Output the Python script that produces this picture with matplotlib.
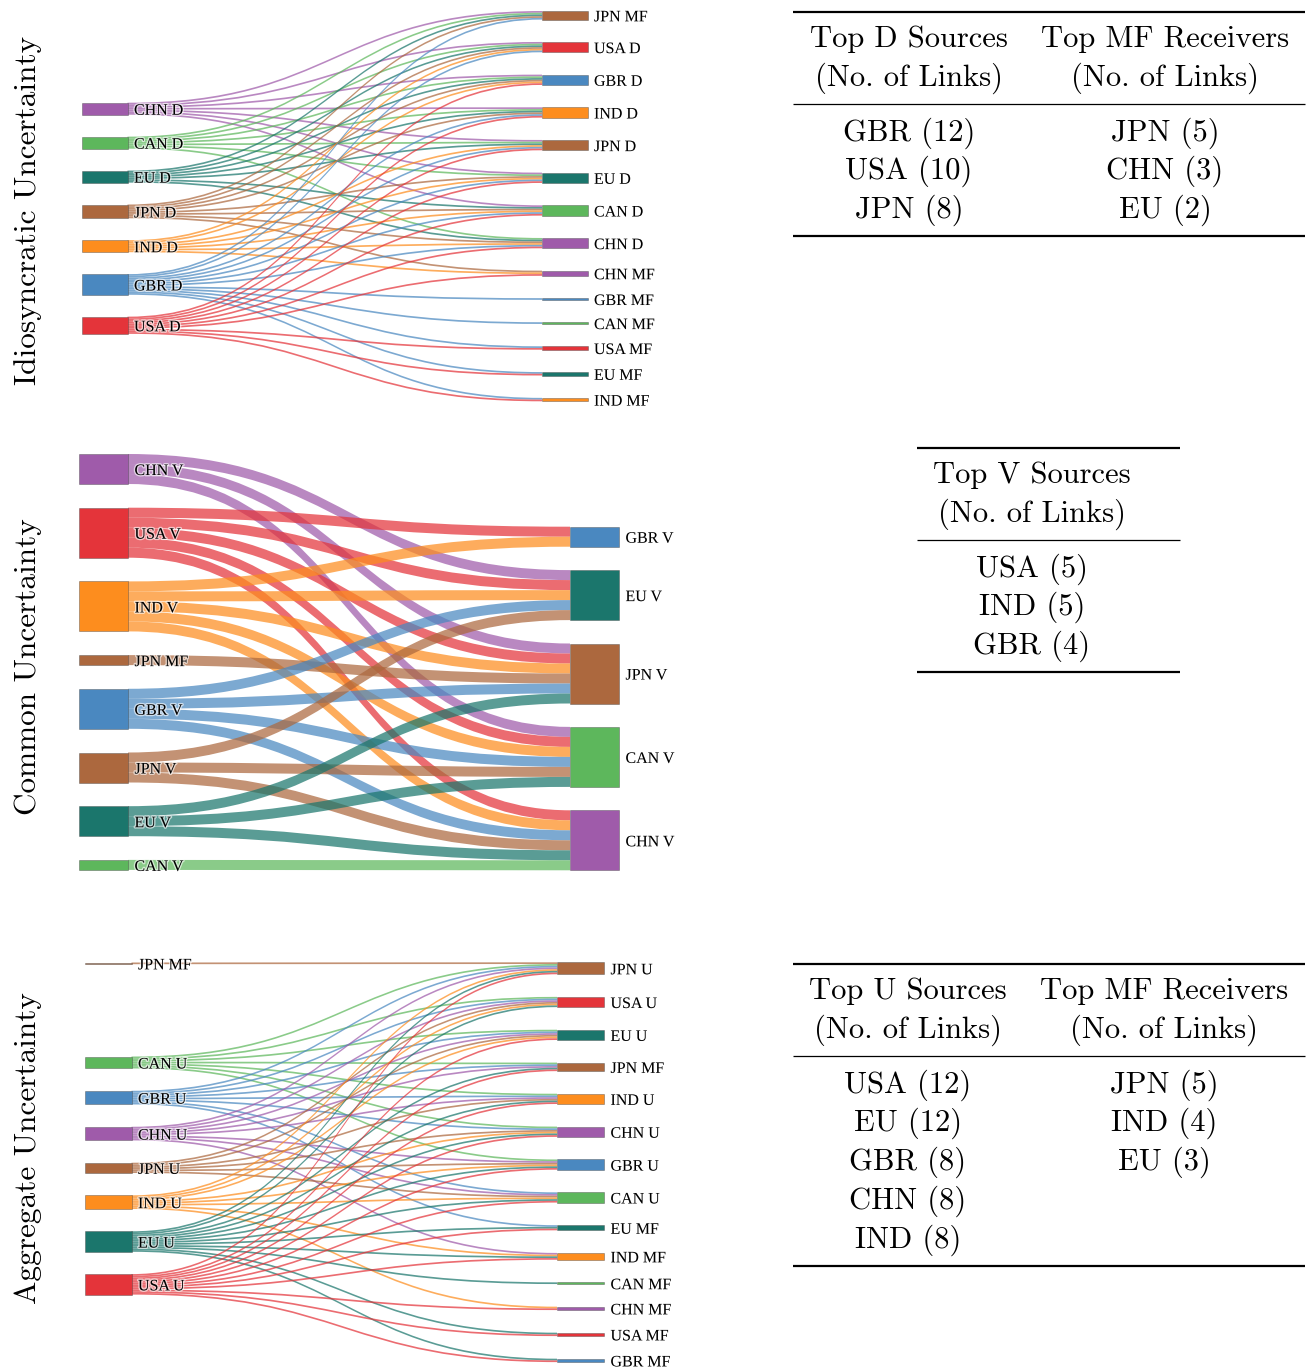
import matplotlib.pyplot as plt
from matplotlib.path import Path
from matplotlib.patches import PathPatch, Rectangle
import matplotlib.patheffects as pe

country_colors = {
    'USA': '#E4343A', 'GBR': '#4A88C0', 'CAN': '#5DB75C', 'CHN': '#9F5BAA',
    'IND': '#FD8D1E', 'JPN': '#AC683E', 'EU': '#1B766C',
}

# Idiosyncratic uncertainty (D)
d_sources = ['CHN D', 'CAN D', 'EU D', 'JPN D', 'IND D', 'GBR D', 'USA D']
d_targets = ['JPN MF', 'USA D', 'GBR D', 'IND D', 'JPN D', 'EU D', 'CAN D', 'CHN D',
             'CHN MF', 'GBR MF', 'CAN MF', 'USA MF', 'EU MF', 'IND MF']
d_links = {
    'CHN D': ['USA D', 'GBR D', 'IND D', 'JPN D', 'EU D', 'CAN D', 'JPN MF'],
    'CAN D': ['USA D', 'GBR D', 'IND D', 'JPN D', 'EU D', 'CHN D', 'JPN MF'],
    'EU D': ['USA D', 'GBR D', 'IND D', 'JPN D', 'CAN D', 'CHN D', 'JPN MF'],
    'JPN D': ['USA D', 'GBR D', 'IND D', 'EU D', 'CAN D', 'CHN D', 'JPN MF', 'CHN MF'],
    'IND D': ['USA D', 'GBR D', 'JPN D', 'EU D', 'CAN D', 'CHN D', 'CHN MF'],
    'GBR D': ['USA D', 'IND D', 'JPN D', 'EU D', 'CAN D', 'CHN D', 'JPN MF',
              'GBR MF', 'CAN MF', 'USA MF', 'EU MF', 'IND MF'],
    'USA D': ['GBR D', 'IND D', 'JPN D', 'EU D', 'CAN D', 'CHN D', 'CHN MF',
              'USA MF', 'EU MF', 'IND MF'],
}

# Common uncertainty (V)
v_sources = ['CHN V', 'USA V', 'IND V', 'JPN MF', 'GBR V', 'JPN V', 'EU V', 'CAN V']
v_targets = ['GBR V', 'EU V', 'JPN V', 'CAN V', 'CHN V']
v_links = {
    'CHN V': ['EU V', 'JPN V', 'CAN V'],
    'USA V': ['GBR V', 'EU V', 'JPN V', 'CAN V', 'CHN V'],
    'IND V': ['GBR V', 'EU V', 'JPN V', 'CAN V', 'CHN V'],
    'JPN MF': ['JPN V'],
    'GBR V': ['EU V', 'JPN V', 'CAN V', 'CHN V'],
    'JPN V': ['EU V', 'CAN V', 'CHN V'],
    'EU V': ['JPN V', 'CAN V', 'CHN V'],
    'CAN V': ['CHN V'],
}

# Aggregate uncertainty (U)
u_sources = ['JPN MF', 'CAN U', 'GBR U', 'CHN U', 'JPN U', 'IND U', 'EU U', 'USA U']
u_targets = ['JPN U', 'USA U', 'EU U', 'JPN MF', 'IND U', 'CHN U', 'GBR U', 'CAN U',
             'EU MF', 'IND MF', 'CAN MF', 'CHN MF', 'USA MF', 'GBR MF']
u_links = {
    'JPN MF': ['JPN U'],
    'CAN U': ['JPN U', 'USA U', 'EU U', 'JPN MF', 'IND U', 'CHN U', 'GBR U'],
    'GBR U': ['JPN U', 'USA U', 'EU U', 'JPN MF', 'IND U', 'CHN U', 'CAN U', 'EU MF'],
    'CHN U': ['JPN U', 'USA U', 'EU U', 'JPN MF', 'IND U', 'GBR U', 'CAN U', 'IND MF'],
    'JPN U': ['USA U', 'EU U', 'IND U', 'CHN U', 'GBR U', 'CAN U'],
    'IND U': ['JPN U', 'USA U', 'EU U', 'CHN U', 'GBR U', 'CAN U', 'IND MF', 'CHN MF'],
    'EU U': ['JPN U', 'USA U', 'IND U', 'CHN U', 'GBR U', 'CAN U', 'JPN MF',
             'EU MF', 'IND MF', 'CAN MF', 'USA MF', 'GBR MF'],
    'USA U': ['JPN U', 'EU U', 'IND U', 'CHN U', 'GBR U', 'CAN U', 'JPN MF',
              'EU MF', 'IND MF', 'CHN MF', 'USA MF', 'GBR MF'],
}

# Tables
d_top_src = ['GBR', 'USA', 'JPN']
d_top_src_n = [12, 10, 8]
d_top_mf = ['JPN', 'CHN', 'EU']
d_top_mf_n = [5, 3, 2]
v_top_src = ['USA', 'IND', 'GBR']
v_top_src_n = [5, 5, 4]
u_top_src = ['USA', 'EU', 'GBR', 'CHN', 'IND']
u_top_src_n = [12, 12, 8, 8, 8]
u_top_mf = ['JPN', 'IND', 'EU']
u_top_mf_n = [5, 4, 3]

label_font = 'Liberation Serif'
cm_font = 'cmr10'


def color_of(name):
    return country_colors[name.split()[0]]


def stack(nodes, counts, top, pad, k, extra=None):
    pos = {}
    y = top
    for i, n in enumerate(nodes):
        if extra and i in extra:
            y += extra[i]
        h = counts[n] * k
        pos[n] = [y, y + h]
        y += h + pad
    return pos


def draw_sankey(ax, sources, targets, links, xs, xt, w, src_top, tgt_top, pads, k,
                src_extra=None, fs=11.5):
    src_n = {s: len(links[s]) for s in sources}
    tgt_n = {t: sum(t in links[s] for s in sources) for t in targets}
    sp = stack(sources, src_n, src_top, pads[0], k, src_extra)
    tp = stack(targets, tgt_n, tgt_top, pads[1], k)

    pairs = [(s, t) for s in sources for t in links[s]]
    s_off, t_off = {}, {}
    for s in sources:
        y = sp[s][0]
        for t in sorted(links[s], key=lambda t: tp[t][0]):
            s_off[(s, t)] = y
            y += k
    for t in targets:
        y = tp[t][0]
        inc = [s for s in sources if t in links[s]]
        for s in sorted(inc, key=lambda s: sp[s][0]):
            t_off[(s, t)] = y
            y += k

    x0, x1 = xs + w, xt
    xm = (x0 + x1) / 2
    for s, t in pairs:
        a, b = s_off[(s, t)], t_off[(s, t)]
        verts = [(x0, a), (xm, a), (xm, b), (x1, b), (x1, b + k),
                 (xm, b + k), (xm, a + k), (x0, a + k), (x0, a)]
        codes = [Path.MOVETO, Path.CURVE4, Path.CURVE4, Path.CURVE4, Path.LINETO,
                 Path.CURVE4, Path.CURVE4, Path.CURVE4, Path.CLOSEPOLY]
        ax.add_patch(PathPatch(Path(verts, codes), facecolor=color_of(s),
                               alpha=0.72, lw=0, zorder=1))

    glow = [pe.withStroke(linewidth=2, foreground='white', alpha=0.6)]
    for nodes, pos, x in ((sources, sp, xs), (targets, tp, xt)):
        for n in nodes:
            y0, y1 = pos[n]
            ax.add_patch(Rectangle((x, y0), w, y1 - y0, facecolor=color_of(n),
                                   edgecolor=(0.27, 0.27, 0.27, 0.55), lw=0.5,
                                   zorder=3))
            ax.text(x + w + 6.5, (y0 + y1) / 2, n, fontsize=fs, family=label_font,
                    va='center_baseline', ha='left', zorder=4, path_effects=glow)


def draw_table(ax, xl, xr, top, centers, headers, cols):
    ax.plot([xl, xr], [top, top], color='black', lw=1.6, solid_capstyle='butt')
    for c, h in zip(centers, headers):
        ax.text(c, top + 27, h, fontsize=22, family=cm_font, ha='center', va='center')
        ax.text(c, top + 66, '(No. of Links)', fontsize=22, family=cm_font,
                ha='center', va='center')
    mid = top + 92
    ax.plot([xl, xr], [mid, mid], color='black', lw=0.9, solid_capstyle='butt')
    nrows = max(len(c) for c in cols)
    for c, col in zip(centers, cols):
        for i, txt in enumerate(col):
            ax.text(c, mid + 29 + 38.7 * i, txt, fontsize=22, family=cm_font,
                    ha='center', va='center')
    bot = mid + 27 + 38.7 * (nrows - 1) + 28
    ax.plot([xl, xr], [bot, bot], color='black', lw=1.6, solid_capstyle='butt')


def fmt(names, counts):
    return [f'{n} ({c})' for n, c in zip(names, counts)]


fig = plt.figure(figsize=(13.1, 13.72), dpi=100)
ax = fig.add_axes([0, 0, 1, 1])
ax.set_xlim(0, 1310)
ax.set_ylim(1372, 0)
ax.axis('off')

draw_sankey(ax, d_sources, d_targets, d_links, 82, 542, 45.5, 102.7, 11,
            (21.9, 22.35), 1.72)
draw_sankey(ax, v_sources, v_targets, v_links, 79, 570, 49, 454, 526.7,
            (23.7, 23.4), 10)
draw_sankey(ax, u_sources, u_targets, u_links, 84.5, 557, 47, 962.5, 962.3,
            (22.3, 22.6), 1.71, src_extra={1: 70})

ax.text(28, 210, 'Idiosyncratic Uncertainty', rotation=90, fontsize=22.5,
        family=cm_font, ha='center', va='center')
ax.text(28, 667, 'Common Uncertainty', rotation=90, fontsize=22.5,
        family=cm_font, ha='center', va='center')
ax.text(28, 1148, 'Aggregate Uncertainty', rotation=90, fontsize=22.5,
        family=cm_font, ha='center', va='center')

draw_table(ax, 793, 1305, 12, [909, 1165], ['Top D Sources', 'Top MF Receivers'],
           [fmt(d_top_src, d_top_src_n), fmt(d_top_mf, d_top_mf_n)])
draw_table(ax, 917, 1180, 448, [1032], ['Top V Sources'],
           [fmt(v_top_src, v_top_src_n)])
draw_table(ax, 793, 1305, 964, [908, 1164], ['Top U Sources', 'Top MF Receivers'],
           [fmt(u_top_src, u_top_src_n), fmt(u_top_mf, u_top_mf_n)])

fig.savefig('out.png', dpi=100)
